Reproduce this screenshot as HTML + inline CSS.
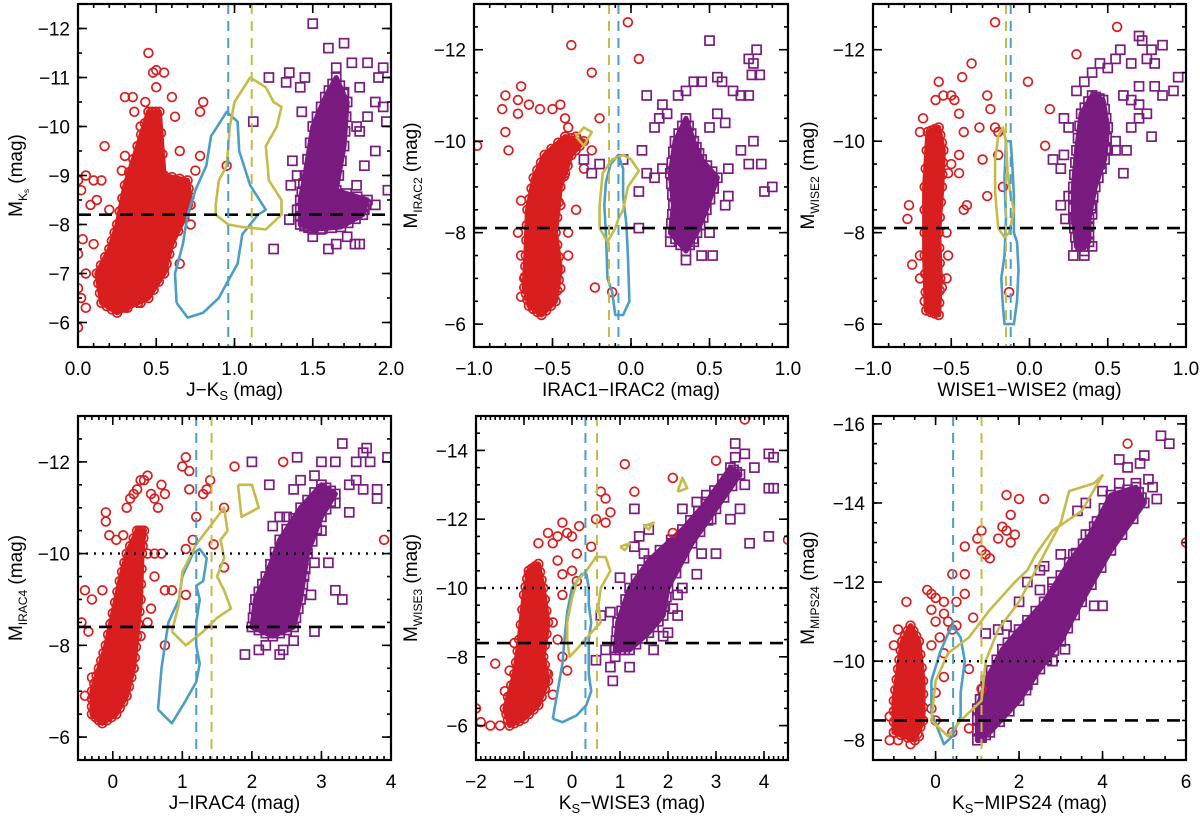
<!DOCTYPE html>
<html><head><meta charset="utf-8"><style>
html,body{margin:0;padding:0;background:#fff;}
svg{display:block;font-family:"Liberation Sans",sans-serif;}
</style></head><body>
<svg id="fig" width="1200" height="817" viewBox="0 0 1200 817" xmlns="http://www.w3.org/2000/svg"></svg>
<script>
// ---------- data (x = colour, y = absolute magnitude) ----------
const p1Red=[[0.0,-5.9],[0.02,-6.5],[0.0,-6.7],[0.05,-7.0],[0.0,-7.4],[0.03,-7.7],[0.1,-7.6],[0.08,-8.4],[0.12,-8.5],[0.02,-8.7],[0.0,-8.9],[0.05,-9.0],[0.1,-8.9],[0.15,-8.9],[0.17,-9.6],[0.28,-9.1],[0.2,-8.3],[0.3,-10.6],[0.35,-10.6],[0.36,-10.3],[0.45,-11.5],[0.48,-11.1],[0.5,-11.15],[0.55,-11.1],[0.6,-10.6],[0.5,-10.8],[0.8,-10.5],[0.78,-10.3],[0.62,-10.2],[0.65,-9.5],[0.78,-9.4],[0.75,-9.1],[0.62,-8.8],[0.72,-8.0],[0.65,-7.2],[0.55,-7.1],[0.4,-6.4],[0.3,-6.3],[0.95,-9.2],[0.62,-8.5],[0.05,-6.3],[0.43,-10.5],[0.4,-10.0],[0.3,-9.4]];
const p1RedCore=[[0.15,-6.4],[0.25,-6.2],[0.45,-6.5],[0.55,-7.0],[0.6,-7.6],[0.72,-8.4],[0.7,-8.9],[0.55,-9.0],[0.52,-10.3],[0.45,-10.3],[0.38,-9.6],[0.3,-8.8],[0.25,-8.0],[0.2,-7.5],[0.12,-7.0]];
const p1Pur=[[1.5,-12.1],[1.7,-11.7],[1.6,-11.6],[1.75,-11.3],[1.65,-11.2],[1.85,-11.3],[1.95,-11.2],[1.92,-11.0],[1.8,-10.8],[1.9,-10.5],[1.95,-10.4],[1.85,-10.2],[1.97,-10.1],[1.8,-9.9],[1.9,-9.5],[1.83,-9.2],[1.78,-8.8],[1.9,-8.4],[1.98,-8.7],[1.43,-10.3],[1.42,-10.8],[1.33,-10.9],[1.4,-9.0],[1.37,-9.3],[1.36,-8.8],[1.4,-8.3],[1.35,-8.1],[1.55,-7.9],[1.6,-7.5],[1.65,-7.6],[1.72,-7.75],[1.8,-7.6],[1.77,-7.6],[1.5,-7.75],[1.25,-7.5],[1.12,-10.1],[1.22,-11.0],[1.35,-11.1],[1.45,-11.0],[1.78,-10.0],[1.7,-10.7]];
const p1PurCore=[[1.42,-8.0],[1.5,-7.9],[1.68,-7.95],[1.82,-8.2],[1.85,-8.5],[1.65,-8.7],[1.7,-9.6],[1.72,-10.5],[1.65,-11.0],[1.58,-10.6],[1.5,-10.0],[1.45,-9.0],[1.42,-8.5]];
const p1Blue=[[0.63,-6.4],[0.7,-6.1],[0.8,-6.2],[0.9,-6.5],[0.95,-6.8],[1.02,-7.2],[1.05,-7.8],[1.15,-8.2],[1.2,-8.3],[1.1,-8.8],[1.03,-9.5],[1.02,-10.1],[0.95,-10.3],[0.85,-9.8],[0.82,-9.2],[0.75,-8.7],[0.7,-8.2],[0.67,-7.6],[0.62,-7.0],[0.63,-6.4]];
const p1Yel=[[0.88,-8.4],[0.9,-8.9],[0.95,-9.2],[0.97,-10.0],[1.0,-10.5],[1.1,-11.0],[1.2,-10.8],[1.25,-10.5],[1.3,-10.4],[1.27,-10.0],[1.2,-9.6],[1.22,-8.9],[1.3,-8.5],[1.3,-8.2],[1.2,-7.9],[1.05,-7.95],[0.96,-8.0],[0.88,-8.2],[0.88,-8.4]];

const p2Red=[[-0.98,-9.9],[-0.8,-10.2],[-0.78,-9.8],[-0.82,-10.7],[-0.8,-11.0],[-0.72,-10.9],[-0.7,-11.2],[-0.72,-10.6],[-0.65,-10.8],[-0.58,-10.7],[-0.5,-10.7],[-0.45,-10.8],[-0.42,-10.5],[-0.4,-10.3],[-0.35,-10.1],[-0.38,-12.1],[-0.25,-11.5],[-0.2,-10.5],[-0.3,-9.4],[-0.25,-9.8],[-0.7,-8.7],[-0.72,-8.0],[-0.7,-7.5],[-0.7,-6.6],[-0.68,-7.0],[-0.48,-7.2],[-0.45,-6.8],[-0.4,-7.5],[-0.4,-8.0],[-0.5,-8.3],[-0.35,-8.5],[-0.23,-6.8],[-0.12,-6.7],[-0.02,-12.6],[0.05,-11.8],[-0.42,-9.3],[-0.5,-9.0],[-0.45,-8.6]];
const p2RedCore=[[-0.65,-6.4],[-0.57,-6.2],[-0.48,-6.5],[-0.45,-7.2],[-0.48,-8.0],[-0.45,-9.0],[-0.38,-9.7],[-0.3,-10.0],[-0.42,-10.1],[-0.55,-9.7],[-0.62,-9.2],[-0.66,-8.5],[-0.67,-7.5],[-0.68,-6.8]];
const p2Pur=[[0.5,-12.2],[0.8,-12.0],[0.75,-11.8],[0.78,-11.7],[0.82,-11.45],[0.77,-11.45],[0.55,-11.4],[0.58,-11.3],[0.45,-11.3],[0.4,-11.3],[0.35,-11.1],[0.3,-11.0],[0.65,-11.1],[0.7,-11.0],[0.75,-11.0],[0.1,-11.0],[0.2,-10.8],[0.23,-10.6],[0.15,-10.3],[0.18,-10.5],[0.55,-10.6],[0.6,-10.4],[0.5,-10.3],[0.78,-10.0],[0.7,-9.8],[0.62,-9.4],[0.75,-9.5],[0.83,-9.5],[0.9,-9.0],[0.85,-8.9],[0.62,-8.8],[0.6,-8.6],[0.2,-9.4],[0.1,-9.3],[0.15,-9.2],[0.05,-8.9],[-0.3,-9.6],[-0.25,-9.3],[-0.2,-9.5],[-0.05,-9.6],[0.07,-9.8],[0.05,-8.1],[0.35,-7.4],[0.45,-7.5],[0.52,-7.5],[0.25,-7.8],[0.4,-7.8],[0.5,-8.0]];
const p2PurCore=[[0.25,-8.0],[0.35,-7.6],[0.42,-8.0],[0.48,-8.5],[0.55,-9.2],[0.45,-9.6],[0.4,-10.0],[0.35,-10.5],[0.28,-10.0],[0.25,-9.3],[0.27,-8.6]];
const p2Blue=[[-0.16,-9.1],[-0.13,-9.5],[-0.08,-9.7],[-0.05,-9.4],[-0.05,-8.8],[-0.03,-8.2],[-0.02,-7.5],[-0.01,-6.5],[-0.05,-6.2],[-0.1,-6.2],[-0.12,-6.7],[-0.15,-7.0],[-0.16,-8.0],[-0.17,-8.6],[-0.16,-9.1]];
const p2Yel=[[-0.2,-8.1],[-0.2,-8.6],[-0.18,-9.3],[-0.12,-9.6],[-0.05,-9.7],[0.0,-9.6],[0.05,-9.35],[0.02,-9.2],[-0.02,-9.0],[-0.05,-8.5],[-0.08,-8.3],[-0.1,-8.1],[-0.15,-7.8],[-0.2,-8.1]];
const p2Yel2=[[-0.35,-10.1],[-0.3,-10.3],[-0.25,-10.2],[-0.3,-9.9],[-0.35,-10.1]];

const p3Red=[[-0.78,-8.3],[-0.77,-8.6],[-0.75,-7.3],[-0.7,-7.5],[-0.7,-7.0],[-0.67,-6.5],[-0.56,-6.8],[-0.53,-7.0],[-0.52,-7.5],[-0.53,-8.0],[-0.6,-10.9],[-0.58,-11.3],[-0.55,-11.0],[-0.5,-11.0],[-0.48,-10.9],[-0.45,-10.6],[-0.43,-11.4],[-0.37,-11.7],[-0.42,-10.2],[-0.45,-9.7],[-0.5,-9.5],[-0.52,-9.3],[-0.45,-9.3],[-0.42,-8.5],[-0.4,-8.6],[-0.3,-9.6],[-0.32,-10.3],[-0.27,-11.0],[-0.25,-10.7],[-0.27,-8.8],[-0.22,-10.3],[-0.2,-10.2],[-0.22,-12.6],[-0.2,-9.7],[-0.17,-9.0],[-0.13,-6.7],[-0.01,-11.3],[0.13,-10.7],[0.1,-9.9],[0.3,-11.9],[0.56,-12.5],[-0.7,-10.2],[-0.68,-10.5]];
const p3RedCore=[[-0.66,-6.3],[-0.58,-6.2],[-0.57,-7.0],[-0.58,-8.0],[-0.56,-9.0],[-0.55,-9.8],[-0.58,-10.3],[-0.65,-10.2],[-0.67,-9.0],[-0.67,-7.5]];
const p3Pur=[[0.28,-7.5],[0.35,-7.5],[0.4,-7.7],[0.35,-7.6],[0.23,-8.3],[0.2,-8.6],[0.25,-8.8],[0.4,-8.6],[0.4,-8.4],[0.35,-9.0],[0.2,-9.4],[0.22,-9.7],[0.15,-9.6],[0.45,-9.5],[0.5,-9.8],[0.55,-9.8],[0.62,-9.8],[0.6,-9.3],[0.55,-10.0],[0.65,-10.3],[0.7,-10.5],[0.78,-10.1],[0.75,-10.6],[0.7,-11.2],[0.8,-11.2],[0.85,-11.0],[0.92,-11.1],[0.95,-11.4],[0.65,-11.7],[0.7,-12.3],[0.72,-12.2],[0.75,-11.8],[0.85,-12.1],[0.78,-12.0],[0.8,-11.7],[0.58,-12.0],[0.55,-11.8],[0.5,-11.6],[0.45,-11.7],[0.4,-11.5],[0.35,-11.3],[0.3,-11.1],[0.22,-10.5],[0.25,-10.3],[0.65,-10.9],[0.6,-11.0],[0.7,-10.8]];
const p3PurCore=[[0.3,-7.7],[0.38,-7.8],[0.38,-8.3],[0.42,-9.0],[0.48,-9.6],[0.5,-10.3],[0.47,-10.9],[0.4,-11.0],[0.33,-10.6],[0.3,-9.8],[0.28,-9.0],[0.28,-8.3]];
const p3Blue=[[-0.17,-6.4],[-0.16,-6.0],[-0.1,-6.0],[-0.08,-6.5],[-0.07,-7.2],[-0.08,-7.8],[-0.1,-8.0],[-0.1,-8.8],[-0.11,-9.5],[-0.12,-10.0],[-0.15,-10.0],[-0.16,-9.2],[-0.15,-8.3],[-0.16,-7.5],[-0.18,-7.0],[-0.17,-6.4]];
const p3Yel=[[-0.2,-8.1],[-0.16,-7.9],[-0.13,-8.0],[-0.1,-8.5],[-0.12,-8.8],[-0.14,-9.3],[-0.15,-10.0],[-0.17,-10.3],[-0.2,-10.1],[-0.22,-9.6],[-0.22,-8.9],[-0.21,-8.5],[-0.2,-8.1]];

const p4Red=[[-0.45,-8.5],[-0.4,-9.2],[-0.3,-9.0],[-0.35,-8.3],[-0.3,-7.3],[-0.4,-6.9],[-0.15,-9.2],[-0.1,-10.9],[-0.1,-10.7],[-0.05,-10.4],[0.05,-10.3],[0.15,-10.4],[0.2,-11.0],[0.25,-11.2],[0.3,-11.3],[0.35,-11.4],[0.4,-11.6],[0.45,-11.6],[0.5,-11.7],[0.55,-11.3],[0.6,-11.2],[0.65,-11.0],[0.7,-11.5],[0.75,-11.3],[0.5,-10.0],[0.6,-10.0],[0.7,-10.0],[0.75,-9.2],[0.6,-9.5],[0.55,-8.8],[0.5,-8.5],[0.4,-8.2],[0.3,-7.5],[0.2,-7.2],[0.85,-9.2],[0.75,-8.0],[1.0,-11.9],[1.1,-11.8],[1.05,-12.1],[1.1,-11.4],[1.2,-10.8],[1.3,-11.3],[1.35,-11.4],[1.4,-11.6],[1.15,-10.3],[1.05,-10.1],[1.45,-10.2],[1.6,-9.7],[1.6,-11.0],[1.75,-11.9],[1.05,-9.1],[3.9,-10.3],[2.45,-12.0]];
const p4RedCore=[[-0.3,-6.5],[-0.15,-6.3],[0.05,-6.5],[0.2,-6.9],[0.3,-7.5],[0.35,-8.2],[0.4,-9.0],[0.42,-10.0],[0.45,-10.5],[0.35,-10.5],[0.2,-10.0],[0.1,-9.4],[0.0,-8.7],[-0.1,-8.0],[-0.2,-7.5],[-0.3,-7.0]];
const p4Pur=[[1.9,-7.8],[2.1,-7.9],[2.2,-8.0],[2.4,-7.8],[2.45,-7.9],[2.6,-8.1],[2.9,-8.3],[2.55,-8.6],[2.85,-9.1],[3.2,-9.2],[3.3,-9.0],[2.75,-9.5],[2.9,-9.8],[3.1,-9.8],[2.3,-10.6],[2.5,-10.8],[2.8,-11.0],[2.9,-10.9],[3.0,-10.5],[2.6,-11.4],[2.7,-11.6],[3.0,-11.4],[3.2,-11.1],[3.4,-11.5],[3.5,-11.6],[3.6,-11.4],[3.7,-12.0],[3.8,-11.4],[3.8,-11.2],[3.5,-12.0],[3.3,-12.4],[3.6,-12.2],[3.65,-12.3],[3.2,-12.0],[3.0,-12.0],[2.65,-12.1],[2.0,-12.0],[2.25,-11.5],[2.4,-10.8],[2.9,-11.7],[3.95,-12.1],[3.4,-10.9]];
const p4PurCore=[[2.0,-8.4],[2.3,-8.2],[2.6,-8.4],[2.7,-9.0],[2.8,-10.0],[3.0,-10.8],[3.2,-11.3],[3.0,-11.5],[2.7,-11.0],[2.4,-10.3],[2.2,-9.5],[2.05,-9.0]];
const p4Blue=[[0.65,-6.6],[0.85,-6.3],[1.05,-6.8],[1.2,-7.2],[1.25,-7.6],[1.2,-8.0],[1.2,-8.5],[1.25,-9.0],[1.2,-9.3],[1.3,-9.4],[1.35,-9.9],[1.25,-10.1],[1.15,-10.0],[1.0,-9.5],[0.95,-9.0],[0.8,-8.5],[0.75,-8.0],[0.7,-7.5],[0.65,-6.6]];
const p4Yel=[[0.85,-8.3],[0.95,-8.9],[1.0,-9.6],[1.2,-10.2],[1.4,-10.6],[1.6,-11.0],[1.65,-10.5],[1.55,-10.3],[1.6,-9.9],[1.5,-9.5],[1.6,-9.2],[1.7,-8.8],[1.5,-8.6],[1.3,-8.3],[1.05,-8.0],[0.85,-8.3]];
const p4Yel2=[[1.8,-11.5],[2.0,-11.5],[2.1,-11.0],[1.85,-10.8],[1.8,-11.5]];

const p5Red=[[-2.0,-6.5],[-1.9,-6.1],[-1.7,-6.0],[-1.5,-6.0],[-1.6,-7.8],[-1.3,-7.6],[-1.4,-7.0],[-1.2,-8.4],[-1.0,-8.9],[-0.9,-10.4],[-0.7,-11.3],[-0.5,-11.6],[-0.4,-11.3],[-0.3,-11.5],[-0.2,-11.9],[-0.1,-11.6],[0.0,-11.5],[0.1,-11.0],[-0.3,-10.8],[-0.2,-10.4],[0.0,-10.5],[0.1,-10.2],[-0.2,-9.8],[-0.4,-9.0],[-0.3,-8.5],[-0.2,-8.0],[-0.5,-7.5],[-0.4,-6.9],[-0.1,-7.6],[0.6,-12.8],[0.7,-12.6],[0.8,-12.2],[0.5,-12.0],[0.7,-11.9],[0.4,-11.2],[1.1,-13.6],[1.3,-12.8],[2.1,-13.2],[3.0,-13.7],[3.6,-14.9],[2.1,-11.6],[4.5,-11.4],[0.15,-11.8]];
const p5RedCore=[[-1.3,-6.0],[-1.0,-6.2],[-0.7,-6.6],[-0.5,-7.3],[-0.6,-8.0],[-0.5,-9.0],[-0.6,-10.0],[-0.7,-10.7],[-0.9,-10.5],[-1.0,-9.8],[-1.1,-8.5],[-1.2,-7.5],[-1.4,-6.5]];
const p5Pur=[[0.8,-7.7],[0.85,-7.3],[0.5,-7.9],[0.7,-8.2],[0.6,-9.2],[0.8,-9.3],[0.9,-8.0],[1.2,-7.7],[1.7,-8.2],[1.9,-8.6],[2.0,-8.7],[2.2,-9.2],[2.1,-9.4],[2.2,-9.8],[2.3,-10.0],[1.9,-10.8],[2.1,-11.3],[2.3,-11.5],[2.6,-10.4],[2.7,-11.0],[2.3,-12.3],[2.6,-12.5],[2.8,-12.7],[3.2,-13.0],[3.4,-13.8],[3.6,-13.9],[3.4,-14.2],[3.8,-13.5],[4.1,-13.9],[4.2,-13.8],[4.1,-12.9],[4.2,-12.9],[3.5,-12.3],[4.1,-11.5],[3.7,-11.3],[3.0,-11.0],[1.3,-12.3],[1.4,-11.5],[1.3,-11.2],[3.3,-12.0],[2.9,-12.0],[3.6,-13.0],[1.0,-10.3],[1.5,-11.0],[1.6,-11.7]];
const p5PurCore=[[0.9,-8.2],[1.2,-8.2],[1.6,-8.7],[1.9,-9.2],[2.0,-10.0],[2.5,-11.3],[3.0,-12.3],[3.5,-13.3],[3.3,-13.5],[2.8,-12.5],[2.3,-11.7],[1.6,-10.8],[1.2,-10.0],[0.95,-9.0]];
const p5Blue=[[-0.4,-6.2],[-0.2,-6.1],[0.1,-6.3],[0.3,-6.6],[0.4,-7.0],[0.35,-7.5],[0.35,-8.0],[0.35,-8.5],[0.4,-9.0],[0.35,-9.5],[0.35,-10.0],[0.3,-10.4],[0.2,-10.4],[0.0,-10.0],[-0.1,-9.3],[-0.15,-8.6],[-0.2,-7.8],[-0.3,-7.0],[-0.4,-6.2]];
const p5Yel=[[-0.1,-8.5],[-0.05,-8.0],[0.15,-8.3],[0.4,-8.7],[0.6,-9.0],[0.55,-9.5],[0.6,-10.0],[0.8,-10.5],[0.7,-10.9],[0.5,-10.9],[0.3,-10.5],[0.1,-10.2],[0.0,-9.7],[-0.1,-9.0],[-0.1,-8.5]];
const p5Yel2=[[1.0,-11.2],[1.2,-11.3],[1.1,-11.1],[1.0,-11.2]];
const p5Yel3=[[1.5,-11.8],[1.7,-11.9],[1.6,-11.7],[1.5,-11.8]];
const p5Yel4=[[2.2,-12.8],[2.3,-13.2],[2.4,-12.9],[2.2,-12.8]];

const p6Red=[[-1.1,-8.0],[-0.9,-8.0],[-0.6,-7.9],[-0.4,-8.1],[-1.1,-8.6],[-0.9,-10.8],[-1.0,-10.4],[-0.7,-11.5],[-0.2,-11.8],[-0.1,-11.7],[0.0,-11.6],[-0.1,-11.3],[0.0,-11.0],[0.2,-11.5],[0.2,-11.2],[0.3,-11.0],[0.1,-10.6],[-0.1,-10.4],[0.2,-10.2],[0.4,-10.8],[0.5,-10.9],[0.5,-11.5],[0.4,-12.2],[0.7,-12.2],[0.7,-11.7],[0.9,-11.1],[0.8,-9.8],[0.2,-9.6],[0.0,-9.2],[-0.1,-8.8],[0.0,-8.5],[0.4,-8.2],[0.8,-8.3],[1.1,-9.3],[1.1,-12.8],[1.2,-12.7],[1.0,-13.1],[1.1,-13.3],[1.3,-12.6],[1.5,-13.1],[1.6,-13.4],[1.7,-13.3],[1.8,-13.0],[1.9,-13.2],[1.8,-13.7],[1.7,-14.2],[2.0,-14.1],[2.6,-14.1],[4.6,-15.5],[6.0,-13.0],[0.7,-12.9]];
const p6RedCore=[[-1.0,-8.2],[-0.5,-8.0],[-0.3,-8.5],[-0.3,-9.5],[-0.4,-10.5],[-0.6,-10.9],[-0.8,-10.5],[-0.9,-9.8],[-1.0,-9.0]];
const p6Pur=[[1.5,-10.8],[1.7,-10.9],[1.2,-10.7],[2.0,-11.5],[2.2,-12.0],[2.6,-12.4],[2.5,-11.8],[2.8,-12.0],[3.1,-11.7],[2.5,-10.2],[2.8,-10.0],[2.6,-10.1],[2.2,-9.4],[2.0,-9.5],[3.0,-12.7],[3.3,-12.7],[3.6,-13.2],[3.8,-13.4],[4.0,-13.1],[3.4,-13.8],[3.6,-14.0],[4.0,-14.3],[4.4,-14.5],[4.6,-14.9],[4.9,-15.0],[5.0,-15.2],[4.8,-14.5],[5.1,-14.6],[5.3,-14.1],[5.2,-14.4],[5.4,-15.7],[5.6,-15.5],[4.4,-15.1],[4.3,-13.2],[4.6,-13.7],[3.8,-11.4],[4.0,-11.4],[2.6,-10.6],[3.1,-10.3],[2.5,-12.3],[1.1,-8.1]];
const p6PurCore=[[1.0,-8.0],[1.3,-8.2],[2.0,-9.0],[2.5,-9.8],[3.0,-10.5],[3.5,-11.5],[4.2,-12.8],[5.0,-14.0],[4.8,-14.4],[4.2,-14.2],[3.7,-13.2],[3.2,-12.5],[2.6,-11.5],[2.0,-10.8],[1.6,-10.3],[1.2,-9.5],[1.0,-8.8]];
const p6Blue=[[-0.1,-8.7],[0.2,-7.9],[0.4,-8.1],[0.6,-8.6],[0.6,-9.2],[0.7,-10.0],[0.6,-10.6],[0.4,-10.9],[0.3,-10.7],[0.1,-10.2],[-0.1,-9.5],[-0.1,-8.7]];
const p6Yel=[[-0.1,-8.5],[0.3,-8.1],[0.6,-8.5],[1.1,-9.0],[1.2,-10.0],[1.5,-10.8],[2.0,-11.5],[2.5,-12.5],[3.0,-13.5],[3.2,-14.3],[3.8,-14.5],[4.0,-14.7],[3.5,-13.8],[2.8,-13.3],[2.4,-12.7],[2.2,-12.3],[1.9,-12.0],[1.3,-11.3],[0.8,-10.6],[0.3,-10.2],[0.0,-9.5],[-0.1,-8.5]];

// reference lines
const hDash=[-8.2,-8.1,-8.1,-8.4,-8.4,-8.5];
const hDot=[null,null,null,-10,-10,-10];
const vBlue=[0.96,-0.08,-0.12,1.2,0.28,0.42];
const vYel=[1.11,-0.14,-0.15,1.42,0.52,1.1];
// tick labels
const p1XTicks=["0.0","0.5","1.0","1.5","2.0"], p1YTicks=[-12,-11,-10,-9,-8,-7,-6];
const p2XTicks=["−1.0","−0.5","0.0","0.5","1.0"], p2YTicks=[-12,-10,-8,-6];
const p4XTicks=["0","1","2","3","4"], p4YTicks=[-12,-10,-8,-6];
const p5XTicks=["−2","−1","0","1","2","3","4"], p5YTicks=[-14,-12,-10,-8,-6];
const p6XTicks=["0","2","4","6"], p6YTicks=[-16,-14,-12,-10,-8];

const RED="#d81e1e",PUR="#7a1b80",BLU="#4c9ec4",YEL="#c5bb4a";
const NS="http://www.w3.org/2000/svg";
const svg=document.getElementById('fig');
function el(tag,attrs,parent){const e=document.createElementNS(NS,tag);for(const k in attrs)e.setAttribute(k,attrs[k]);(parent||svg).appendChild(e);return e;}
const num=s=>parseFloat(String(s).replace('−','-'));

const panels=[
 {id:1,bx:78,by:4,bw:313,bh:343,x0:0,x1:2,y0:-12.5,y1:-5.5,xt:p1XTicks,yt:p1YTicks,xmin:0.1,ymin:0.5,red:p1Red,rc:p1RedCore,pur:p1Pur,pc:p1PurCore,blue:[p1Blue],yel:[p1Yel],
  xl:['J−K','S',' (mag)'],yl:['M','K',''],ylx:15},
 {id:2,bx:474,by:4,bw:314,bh:343,x0:-1,x1:1,y0:-13,y1:-5.5,xt:p2XTicks,yt:p2YTicks,xmin:0.1,ymin:0.5,red:p2Red,rc:p2RedCore,pur:p2Pur,pc:p2PurCore,blue:[p2Blue],yel:[p2Yel,p2Yel2],
  xl:['IRAC1−IRAC2','',' (mag)'],yl:['M','IRAC2'],ylx:410},
 {id:3,bx:873,by:4,bw:313,bh:343,x0:-1,x1:1,y0:-13,y1:-5.5,xt:p2XTicks,yt:p2YTicks,xmin:0.1,ymin:0.5,red:p3Red,rc:p3RedCore,pur:p3Pur,pc:p3PurCore,blue:[p3Blue],yel:[p3Yel],
  xl:['WISE1−WISE2','',' (mag)'],yl:['M','WISE2'],ylx:807},
 {id:4,bx:78,by:416,bw:313,bh:344,x0:-0.5,x1:4,y0:-13,y1:-5.5,xt:p4XTicks,yt:p4YTicks,xmin:0.1,ymin:0.5,red:p4Red,rc:p4RedCore,pur:p4Pur,pc:p4PurCore,blue:[p4Blue],yel:[p4Yel,p4Yel2],
  xl:['J−IRAC4','',' (mag)'],yl:['M','IRAC4'],ylx:15},
 {id:5,bx:476,by:416,bw:312,bh:344,x0:-2,x1:4.5,y0:-15,y1:-5,xt:p5XTicks,yt:p5YTicks,xmin:0.1,ymin:0.5,red:p5Red,rc:p5RedCore,pur:p5Pur,pc:p5PurCore,blue:[p5Blue],yel:[p5Yel,p5Yel2,p5Yel3,p5Yel4],
  xl:['K','S','−WISE3 (mag)'],yl:['M','WISE3'],ylx:410},
 {id:6,bx:873,by:416,bw:313,bh:344,x0:-1.5,x1:6,y0:-16.2,y1:-7.5,xt:p6XTicks,yt:p6YTicks,xmin:0.5,ymin:0.5,red:p6Red,rc:p6RedCore,pur:p6Pur,pc:p6PurCore,blue:[p6Blue],yel:[p6Yel],
  xl:['K','S','−MIPS24 (mag)'],yl:['M','MIPS24'],ylx:807}
];

panels.forEach((p,i)=>{
 const X=v=>p.bx+(v-p.x0)/(p.x1-p.x0)*p.bw;
 const Y=v=>p.by+(v-p.y0)/(p.y1-p.y0)*p.bh;
 const g=el('g',{});
 
 
 const cp=el('clipPath',{id:'c'+p.id},g);
 el('rect',{x:p.bx,y:p.by,width:p.bw,height:p.bh},cp);
 const d=el('g',{'clip-path':'url(#c'+p.id+')'},g);
 const pts=a=>a.map(q=>X(q[0]).toFixed(1)+','+Y(q[1]).toFixed(1)).join(' ');
 // cores
 const rc=el('polygon',{points:pts(p.rc),fill:RED,stroke:RED,'stroke-width':5,'stroke-linejoin':'round'},d);
 
 
 const pc=el('polygon',{points:pts(p.pc),fill:PUR,stroke:PUR,'stroke-width':5,'stroke-linejoin':'round'},d);
 
 
 // edge markers along core boundaries (rough, marker-textured edges)
 const edge=(core,fn)=>{for(let k=0;k<core.length;k++){const a=core[k],b=core[(k+1)%core.length];
   for(let s=0;s<3;s++){const f=s/3;fn(X(a[0]+(b[0]-a[0])*f),Y(a[1]+(b[1]-a[1])*f));}}};
 edge(p.rc,(x,y)=>{const c=el('circle',{cx:x,cy:y,r:4.4,fill:'none',stroke:RED,'stroke-width':1.7},d);
  
  });
 edge(p.pc,(x,y)=>{const s=el('rect',{x:x-4.5,y:y-4.5,width:9,height:9,fill:'none',stroke:PUR,'stroke-width':1.7},d);
  
  });
 p.red.forEach(q=>{const c=el('circle',{cx:X(q[0]),cy:Y(q[1]),r:4.4,fill:'none',stroke:RED,'stroke-width':1.7},d);
  
  });
 p.pur.forEach(q=>{const s=el('rect',{x:X(q[0])-4.5,y:Y(q[1])-4.5,width:9,height:9,fill:'none',stroke:PUR,'stroke-width':1.7},d);
  
  });
 p.blue.forEach(a=>{const l=el('polyline',{points:pts(a),fill:'none',stroke:BLU,'stroke-width':2.6,'stroke-linejoin':'round'},d);
  
  });
 p.yel.forEach(a=>{const l=el('polyline',{points:pts(a),fill:'none',stroke:YEL,'stroke-width':2.6,'stroke-linejoin':'round'},d);
  
  });
 const hb=el('line',{x1:p.bx,x2:p.bx+p.bw,y1:Y(hDash[i]),y2:Y(hDash[i]),stroke:'#000','stroke-width':2.6,'stroke-dasharray':'13,8'},d);
 
 
 if(hDot[i]!==null){const hd=el('line',{x1:p.bx,x2:p.bx+p.bw,y1:Y(hDot[i]),y2:Y(hDot[i]),stroke:'#000','stroke-width':2.4,'stroke-dasharray':'2,6'},d);
  
  }
 const vb=el('line',{x1:X(vBlue[i]),x2:X(vBlue[i]),y1:p.by,y2:p.by+p.bh,stroke:BLU,'stroke-width':2,'stroke-dasharray':'10,7'},d);
 
 
 const vy=el('line',{x1:X(vYel[i]),x2:X(vYel[i]),y1:p.by,y2:p.by+p.bh,stroke:YEL,'stroke-width':2,'stroke-dasharray':'10,7'},d);
 
 
 // ticks
 const t=el('g',{stroke:'#000','stroke-width':1.6},g);
 const xs=p.xt.map(num), ys=p.yt;
 for(let v=Math.ceil(p.x0/p.xmin)*p.xmin;v<=p.x1+1e-6;v+=p.xmin){const x=X(v);
  el('line',{x1:x,x2:x,y1:p.by+p.bh,y2:p.by+p.bh-4},t);el('line',{x1:x,x2:x,y1:p.by,y2:p.by+4},t);}
 xs.forEach(v=>{const x=X(v);el('line',{x1:x,x2:x,y1:p.by+p.bh,y2:p.by+p.bh-9},t);el('line',{x1:x,x2:x,y1:p.by,y2:p.by+9},t);});
 for(let v=Math.ceil(p.y0/p.ymin)*p.ymin;v<=p.y1+1e-6;v+=p.ymin){const y=Y(v);
  el('line',{x1:p.bx,x2:p.bx+4,y1:y,y2:y},t);el('line',{x1:p.bx+p.bw,x2:p.bx+p.bw-4,y1:y,y2:y},t);}
 ys.forEach(v=>{const y=Y(v);el('line',{x1:p.bx,x2:p.bx+9,y1:y,y2:y},t);el('line',{x1:p.bx+p.bw,x2:p.bx+p.bw-9,y1:y,y2:y},t);});
 const fr=el('rect',{x:p.bx,y:p.by,width:p.bw,height:p.bh,fill:'none',stroke:'#000','stroke-width':2.2},g);
 
 
 p.xt.forEach((s,k)=>{const tx=el('text',{x:X(xs[k]),y:p.by+p.bh+28,'font-size':19,'text-anchor':'middle'},g);tx.textContent=s;
  
  });
 ys.forEach(v=>{const tx=el('text',{x:p.bx-8,y:Y(v)+7,'font-size':19,'text-anchor':'end'},g);tx.textContent=String(v).replace('-','−');
  
  });
 // x title
 const xt=el('text',{x:p.bx+p.bw/2,y:p.by+p.bh+49,'font-size':19,'text-anchor':'middle'},g);
 
 
 let a=el('tspan',{},xt);a.textContent=p.xl[0];
 if(p.xl[1]){a=el('tspan',{'font-size':13,dy:4},xt);a.textContent=p.xl[1];a=el('tspan',{dy:-4},xt);a.textContent=p.xl[2];}
 else{a=el('tspan',{},xt);a.textContent=p.xl[2];}
 // y title
 const cy=p.by+p.bh/2;
 const yt=el('text',{x:0,y:0,'font-size':19,'text-anchor':'middle',transform:`translate(${p.ylx+7},${cy}) rotate(-90)`},g);
 
 
 a=el('tspan',{},yt);a.textContent='M';
 if(p.id===1){a=el('tspan',{'font-size':12,dy:5},yt);a.textContent='K';a=el('tspan',{'font-size':8,dy:2},yt);a.textContent='s';a=el('tspan',{dy:-7},yt);a.textContent='  (mag)';}
 else{a=el('tspan',{'font-size':12,dy:5},yt);a.textContent=p.yl[1];a=el('tspan',{dy:-5},yt);a.textContent='  (mag)';}
});
</script>
</body></html>
